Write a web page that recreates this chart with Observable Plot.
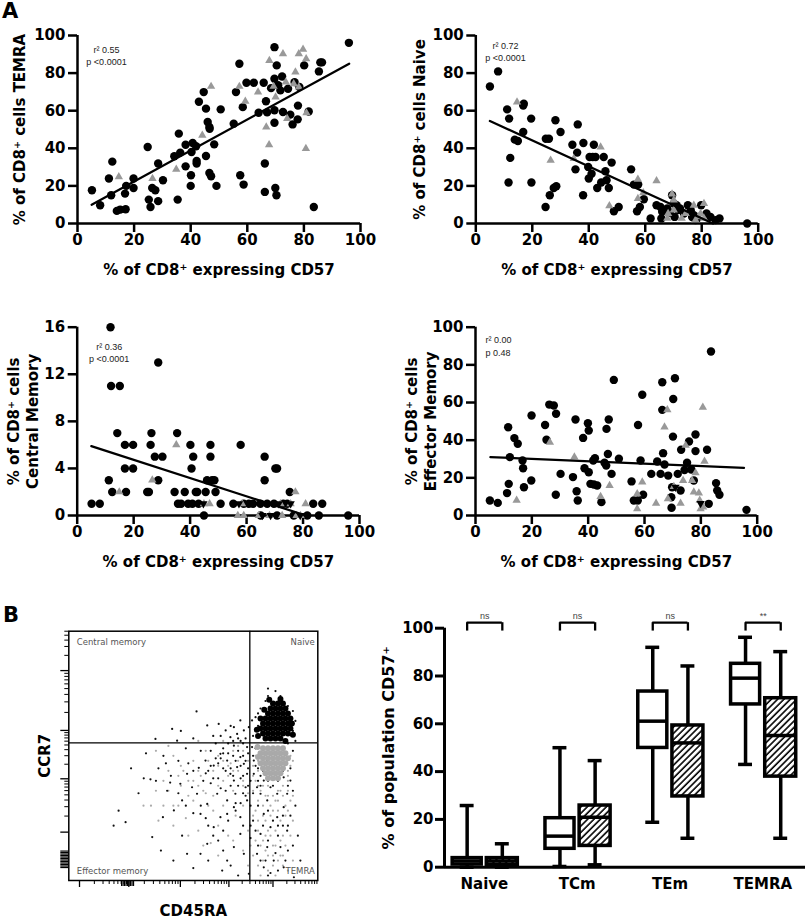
<!DOCTYPE html>
<html><head><meta charset="utf-8">
<script src="https://cdn.jsdelivr.net/npm/d3@7"></script>
<script src="https://cdn.jsdelivr.net/npm/@observablehq/plot@0.6"></script>
<style>
html,body{margin:0;padding:0;background:#fff;}
#fig{position:relative;width:807px;height:919px;overflow:hidden;background:#fff;}
.plabel{position:absolute;font:bold 21px "DejaVu Sans",sans-serif;line-height:1;}
</style></head><body>
<div id="fig"><div class="plabel" style="left:2px;top:1px">A</div><div class="plabel" style="left:3px;top:605px">B</div></div>
<script>
// ---------- Panel A data ----------
const xTicks = [0, 20, 40, 60, 80, 100];
const pctTicks = [0, 20, 40, 60, 80, 100];
const cmTicks = [0, 4, 8, 12, 16];
const xTitle = "% of CD8⁺ expressing CD57";

const temraCircles = [[5.1,17.7],[8,9.7],[11.1,23.9],[12.3,32.9],[11.9,15],[13.9,6.7],[15.1,7.4],[17,7.6],[16.8,15.9],[17.2,20],[19.8,23.9],[19.8,18.9],[24.8,40.7],[25.2,12.7],[25.8,8.8],[26.4,18.9],[27.5,17.7],[28.5,31.9],[28.5,11.9],[30.2,23],[34.2,35.8],[35.4,12.7],[35.8,47.8],[36.3,37.7],[38.2,30.4],[38.2,41.9],[40,20],[40.1,25.7],[40.7,42.8],[40.3,38],[41.9,41.1],[42.1,33.3],[42.1,31.9],[42.9,64.8],[44.6,69.9],[45.4,61.1],[45.4,35.9],[46,54],[46.6,51.3],[46.7,50.4],[46.6,26.9],[47.2,25.1],[48.3,42.1],[49.1,20],[50.6,60.7],[55.2,53.1],[56,69.9],[57.2,85],[57.5,25.7],[58.4,61.9],[58.7,20.7],[59.7,74.9],[62.3,74.9],[64,58.9],[65.8,74.9],[66.6,65],[66.2,31.9],[66.2,16.8],[67,59.1],[68.4,72],[69.6,93.8],[69.6,77],[69.6,60.2],[69.6,53.6],[69.9,18.9],[70.3,15],[70.4,84.1],[70.9,73.5],[71.7,70.8],[72.3,78.2],[72.6,59.3],[74.4,71.7],[75.2,57.9],[76,52.7],[76.7,75.2],[77.8,55.4],[77.9,62.7],[78.4,72.6],[80.1,84.1],[81.7,59.6],[85.3,80.9],[85.8,85.7],[86.4,85.7],[83.5,8.8],[95.9,96.1]];
const temraTriangles = [[14.6,24.8],[26.5,23.9],[34.9,28.8],[44.1,46.9],[47.2,72.9],[57.2,72.9],[59.3,65],[63.8,69.9],[66.7,51.3],[67.7,41.9],[67.8,86.7],[70,67.3],[69.3,72.9],[72.6,90.3],[73.6,75.2],[74.1,55.8],[77,80.5],[78.2,90.3],[79.7,92.6],[80.8,87.6],[80.7,39.8],[80.9,58.8],[78.2,72.6],[76.4,74.3]];
const temraFit = [[5,10],[96,85]];

const naiveCircles = [[5,72.9],[7.9,80.9],[11.1,60.7],[11.8,55.8],[12.2,34.9],[11.6,21.8],[13.8,44.6],[14.9,43.9],[16.8,62.7],[17,63.7],[16.8,48.7],[19.6,55.8],[19.7,21.8],[24.7,8.8],[24.8,45.1],[25.9,45.1],[26.2,15],[27.6,18.9],[28.5,19.8],[28.2,54.9],[30,48.7],[34.2,41.9],[35.3,28.8],[35.9,37.7],[36.1,52.7],[38,15],[38.1,42.8],[39.8,30.1],[40,23.9],[40.3,35.4],[41,26.5],[41.4,35.4],[41.8,41.9],[42.4,35.4],[43,18.9],[44.4,21.8],[45.3,35.4],[45.9,27.8],[46.3,23],[47.1,18.9],[48.1,32.4],[48.9,6.5],[50.6,8.8],[55,28.8],[56,20.7],[57.5,20.7],[57.1,6.5],[58.1,8.8],[59.5,12.9],[61.9,2.7],[64,9.7],[65.4,8.8],[65.7,2.7],[66,6.2],[66.6,7.1],[67.8,8],[68.7,5.8],[69.5,15],[70.1,10.6],[70.4,3.5],[71.1,9.7],[71.7,7.1],[72.3,8],[73.7,5.3],[75.1,9.7],[76.1,7.1],[76.6,3.5],[77.8,1.8],[79.8,9.7],[81.7,5.3],[83.1,3.5],[84.9,1.8],[86.3,2.7],[96.1,0],[77.2,4.4],[78.4,2.7]];
const naiveTriangles = [[14.6,64.6],[26.5,33.6],[34.7,34.5],[44.2,40.7],[47.3,9.4],[57.4,23.5],[57.4,13.3],[59.3,16.3],[64,22.7],[67.8,2.7],[68.1,5.3],[69.5,15.6],[70.1,12.4],[72.9,2.7],[74.3,5.3],[77.2,9.7],[77.8,1.8],[79,3.5],[80.8,10.6],[80.8,2.7],[79.6,5.3],[70.1,7.1]];
const naiveFit = [[5,54.5],[84,0]];

const cmCircles = [[5.1,1],[8,1],[11.8,16],[11.2,3],[12,11],[12.4,2],[15.1,11],[14.2,7],[16.9,6],[16.9,4],[17.3,2],[19.8,6],[19.8,4],[24.8,2],[25.4,2],[26,6],[26.3,7],[27.5,5],[28.7,3],[28.7,13],[30.2,5],[34.5,2],[35.4,7],[35.7,1],[36.8,1],[38.1,2],[39.3,1],[40.1,6],[40.5,4],[40.8,1],[41.1,5],[42,2],[42.5,2],[43,1],[44.9,0],[45.5,2],[46,3],[47.2,6],[47.2,5],[47.8,3],[48.6,3],[49,2],[50.8,1],[55.3,1],[57.9,6],[59,1],[60.8,1],[62.3,1],[64.9,1],[66.4,5],[66.4,3],[67.3,1],[69.7,1],[70.2,4],[70.8,4],[73,1],[74.4,1],[75.3,2],[81.5,0],[83.6,1],[86.8,1],[85.6,0],[96,0],[65,0],[70.8,0],[76.7,0]];
const cmTriangles = [[14.9,2],[26.6,3],[35.1,6],[44.9,1],[46.9,1],[56.9,0],[58.4,1],[59,0],[64.3,0],[68.1,0],[72,1],[72.6,0],[75.6,1],[77.3,2],[77.7,0],[80.9,1],[79.1,0]];
const cmDown = [[44.7,1],[57.3,1],[65.6,0],[68.5,0],[71.4,1],[75.6,1],[79,0]];
const cmFit = [[5,5.9],[81,0]];

const emCircles = [[5.1,8],[7.9,6.7],[11.6,46.9],[12.2,31],[11.8,16.8],[11.2,11.9],[13.8,41.1],[15,38.1],[16.7,29.2],[16.9,25.1],[17.2,15],[19.8,18.6],[19.9,53.1],[24.7,48.1],[25.2,40.2],[26.2,58.9],[27.8,58.4],[28.6,54],[28.5,11],[30.2,22.1],[34.6,20.4],[35.5,51],[35.9,12.9],[36.3,8],[38.2,41.2],[39.9,49],[40.2,45.1],[38.7,25.1],[40.2,23],[40.8,16.8],[41.8,29.2],[42.4,30.4],[42,16.5],[43.2,15.9],[44.7,7.1],[45.8,28],[46.4,26.5],[46.5,46],[47.3,51],[47,32.7],[48.3,22.1],[49.1,72],[50.9,30.1],[55.4,18.1],[56.2,8],[57.6,8],[57.7,48.1],[58.6,29.2],[59.2,64.1],[59.5,11],[62.4,22.1],[64.5,28.7],[65.7,22.1],[66.3,70.8],[66.3,56.1],[66.6,33.1],[67.1,27.1],[68.4,21.2],[69.5,9.7],[69.6,4.1],[69.8,15],[70.1,41.9],[70.2,61.9],[70.8,72.9],[71.8,22.1],[72.8,13.3],[73,34.9],[74.2,24.2],[75.1,28],[75.8,39.3],[76.6,24.4],[78.1,43],[78.1,34.2],[77.5,18.6],[82.2,34.9],[83.6,87.1],[85.4,17.2],[85.8,13.3],[86.6,11],[96.2,3],[82.8,6.2]];
const emTriangles = [[14.6,8],[26.4,38.9],[35.1,31],[44.4,10.1],[47.6,15.9],[57.4,11.5],[57.4,3.5],[59.2,17.7],[64.1,6.5],[68.1,56.1],[67.1,46.9],[68.3,8.8],[70.4,15.4],[72.8,6.5],[73.7,18.6],[74.6,37.2],[77.5,12.4],[78.1,22.7],[79.3,11.9],[79.6,8],[79.9,3.5],[80.8,4.4],[80.7,57.5],[81.3,28.8],[76.9,18.6]];
const emDown = [[79.9,6.4],[71,15]];
const emFit = [[5.3,31],[95.3,25.3]];

// ---------- Panel B data ----------
const gateX = 72.7, gateY = 55.2;
const flowBlackCore = [[79,57],[81,57],[83,57],[85,57],[87,56],[78,59],[80,59],[82,59],[84,59],[86,59],[88,59],[79,61],[81,61],[83,61],[85,61],[87,61],[89,61],[78,63],[80,63],[82,63],[84,63],[86,63],[88,63],[79,65],[81,65],[83,65],[85,65],[87,65],[89,65],[80,67],[82,67],[84,67],[86,67],[88,67],[81,69],[83,69],[85,69],[87,69],[82,71],[84,71],[86,71],[77,61],[76,58],[77,65],[80.5,72.5],[85,72.8],[89.6,63],[90,58.5],[75.5,60.5],[78.5,68.5]];
const flowGrayCore = [[78,53],[80,53],[82,53],[84,53],[86,53],[77,51],[79,51],[81,51],[83,51],[85,51],[87,51],[78,49],[80,49],[82,49],[84,49],[86,49],[77,47],[79,47],[81,47],[83,47],[85,47],[87,47],[78,45],[80,45],[82,45],[84,45],[86,45],[79,43],[81,43],[83,43],[85,43],[80,41],[82,41],[84,41],[76,49.5],[88,49],[75.8,53.5]];
const flowBlack = [[51.3,67.8],[60.2,62.8],[55.6,62.2],[34.8,56.8],[43.5,56.1],[41.5,60.8],[31,51],[30.1,41],[32.8,40.6],[40.7,39.3],[39.5,36],[44.8,38.8],[47.5,42.8],[52.2,45.2],[54.9,48.1],[58.2,46.1],[60.9,50.8],[63.6,48.1],[64.9,42.8],[66.3,40.1],[67.6,45.5],[68.9,49.5],[70.3,46.8],[71.6,42.8],[71,37.4],[66.9,34.8],[63.6,32.1],[59.6,34.8],[55.6,30.7],[52.9,26.7],[51.5,34.8],[49.5,37.4],[45.5,32.1],[42.2,28.1],[37.8,25.4],[33.5,17.4],[22.8,23.4],[45.5,18],[47.5,10.7],[52.9,10.7],[55.6,14.7],[58.2,21.4],[60.9,25.4],[63.6,26.7],[66.3,29.4],[68.9,25.4],[71.6,32.1],[61.6,4],[63.6,8],[66.3,13.4],[68.9,18.7],[70.3,10.7],[72.3,2.7],[74.3,42.8],[75.6,37.4],[77,34.8],[78.3,40.1],[79.7,32.1],[81,37.4],[83.7,34.8],[86.3,41.4],[87.7,34.8],[89,40.1],[78.3,26.7],[81,21.4],[83.7,25.4],[86.3,29.4],[77,18.7],[79.7,13.4],[82.3,8],[85,13.4],[87.7,20],[78.3,5.3],[75.6,10.7],[90.4,1.3],[93,8],[86.3,5.3],[74.3,48.1],[79.7,48.1],[85.7,46.8],[88.4,49.5],[73.6,53.5],[71.6,53.5],[66.3,54.1],[64.9,57.5],[67.6,58.8],[70.3,60.2],[72.3,61.5],[73.6,64.2],[75,65.5],[66.3,61.5],[63,60.2],[68.9,64.2],[57,52],[59,55],[62,53],[64,51],[66,50],[68,52],[70,50],[69,56],[71,57],[62,45],[60,41],[57,39],[54,40],[50,44],[48,47],[56,44],[65,38],[69,41],[72,45],[70,35],[67,31],[73,40],[73,30],[74,35],[76,45],[77,42],[89,45],[90,52],[91,56],[88,55],[76,50],[75,53],[53,52],[47,53],[38,50],[36,45],[44,48],[61,58],[58,58],[45,60],[50,57],[65,62],[74,58],[76,62],[90,60],[91,64],[88,70],[85,74],[83,76],[80,74],[79,72],[77,69],[76,67],[90,68],[80,77],[55,25],[58,18],[62,12],[65,6],[68,2],[70,22],[73,22],[73,17],[76,30],[80,28],[84,18],[86,22],[88,12],[84,4],[80,2],[77,8],[91,30],[89,26],[92,18],[60,47],[61,49],[63,44],[65,45],[67,48],[69,46],[71,48],[72,51],[70,55],[68,57],[66,56],[64,55],[62,51],[59,49],[57,46],[55,43],[58,41],[61,37],[63,36],[66,42],[68,38],[70,42],[72,38],[71,34],[69,31],[67,28],[64,24],[62,20],[60,16],[56,22],[53,30],[50,27],[47,30],[44,35],[41,42],[39,47],[35,40],[28,35],[25,45],[20,28],[18,22],[37,12],[42,8],[50,5],[56,8],[74,50],[75,46],[76,40],[77,38],[78,44],[80,40],[82,38],[84,40],[86,44],[88,38],[90,36],[78,22],[80,16],[82,24],[84,22],[86,26],[88,22],[90,14],[79,8],[83,11],[87,8],[81,3],[76,14],[75,20],[74,24]];
const flowGray = [[60,50],[55,52],[50,48],[45,46],[40,44],[48,40],[53,42],[58,44],[62,40],[65,47],[68,44],[70,38],[66,36],[62,30],[58,28],[55,35],[50,32],[45,38],[38,40],[35,36],[33,30],[42,30],[47,25],[52,20],[57,15],[60,22],[64,18],[67,26],[70,30],[72,20],[74,10],[76,24],[78,30],[80,20],[82,14],[84,28],[86,18],[88,36],[90,24],[76,6],[80,4],[84,8],[88,4],[78,38],[82,34],[86,38],[74,42],[72,48],[70,52],[68,54],[88,44],[90,48],[30,30],[40,54],[35,52],[52,56],[62,56],[73,14],[75,16],[79,12],[83,2],[77,2],[85,24],[75,40],[77,36],[79,34],[81,30],[83,32],[85,36],[87,30],[75,28],[79,24],[81,26],[83,20],[85,16],[87,26],[89,32],[76,20],[78,16],[80,10],[82,6],[86,10],[74,26],[74,46],[76,48],[88,40],[89,50],[66,44],[64,42],[60,46],[56,48],[52,38],[48,34],[44,42],[42,50],[76,32],[78,26],[80,34],[82,28],[84,32],[86,34],[88,28],[90,34],[77,14],[79,18],[81,18],[83,14],[85,10],[87,14],[89,18],[78,8],[82,10],[86,6],[90,8],[74,36],[76,38],[80,38],[84,36],[88,42],[89,46],[75,50],[76,44],[72,35],[70,40],[68,48],[66,52],[64,46],[62,48],[60,38],[58,34],[56,30],[54,36],[52,44],[50,40],[46,44],[44,30],[40,36],[38,30],[36,24],[42,22],[48,18],[54,14],[60,10],[66,16],[70,12],[72,6]];
const flowYMajor = [19.4, 40.8, 60.2, 84.2];
const flowXMajor = [4.3, 24.1, 44.8, 64.3, 82];
const flowYDense = [5.2, 5.8, 6.4, 7, 7.6, 8.2, 8.8, 9.4, 10, 10.6, 11.2, 11.8];
const flowXDense = [21.2, 21.8, 22.4, 23, 23.6, 24.2, 24.8, 25.4, 26];

const boxGroups = ["Naive", "TCm", "TEm", "TEMRA"];
const openMin = [0, 0.3, 18.8, 43];
const openQ1 = [1.1, 7.7, 49.9, 68.1];
const openMed = [2.6, 13, 61.1, 79.1];
const openQ3 = [3.8, 20.5, 73.5, 85.1];
const openMax = [25.8, 50, 92, 96.2];
const hatchMin = [0, 1, 12.1, 12.1];
const hatchQ1 = [1, 8.9, 29.6, 37.9];
const hatchMed = [2.6, 20.9, 52, 55.1];
const hatchQ3 = [3.8, 25.8, 59.3, 70.7];
const hatchMax = [9.8, 44.6, 84.2, 90.2];
const sigLabels = ["ns", "ns", "ns", "**"];

// ---------- helpers ----------
const FONT = '"DejaVu Sans", sans-serif';
const fig = document.getElementById("fig");
const baseStyle = {fontFamily: FONT, fontSize: "15px", fontWeight: "bold", background: "transparent", color: "black", overflow: "visible"};
function place(svg, left, top) {
  svg.style.position = "absolute";
  svg.style.left = left + "px";
  svg.style.top = top + "px";
  svg.style.maxWidth = "none";
  fig.appendChild(svg);
}
const px = d => d[0], py = d => d[1];

function scatter(c) {
  return Plot.plot({
    width: c.w, height: 290,
    marginLeft: c.mL, marginRight: c.mR, marginTop: c.mT, marginBottom: c.mB,
    x: {domain: [0, 100]}, y: {domain: c.yDomain},
    style: baseStyle,
    marks: [
      Plot.axisX({ticks: xTicks, tickSize: 9, tickPadding: 2, strokeWidth: 2.5, label: null}),
      Plot.axisY({ticks: c.yTicks, tickSize: 9, tickPadding: 3, strokeWidth: 2.5, label: null}),
      Plot.ruleX([0], {strokeWidth: 2.5}),
      Plot.ruleY([0], {strokeWidth: 2.5}),
      Plot.dot(c.circles, {x: px, y: py, r: 4.2, fill: "black"}),
      Plot.dot(c.tris, {x: px, y: py, r: 3.1, symbol: "triangle", fill: "#999"}),
      c.down ? Plot.dot(c.down, {x: px, y: py, r: 3.1, symbol: "triangle", rotate: 180, fill: "black"}) : null,
      Plot.line(c.fit, {x: px, y: py, strokeWidth: 2.3}),
      Plot.text([c.ann], {frameAnchor: "top-left", dx: c.annDx, dy: c.annDy, textAnchor: c.annAnchor, lineAnchor: "middle", lineHeight: 1.4, fontSize: 9, fontWeight: "normal", fontFamily: '"Liberation Sans", Arial, sans-serif', fill: "#222"}),
      Plot.text([xTitle], {frameAnchor: "bottom", dy: 47, textAnchor: "middle", lineAnchor: "middle"}),
      Plot.text([c.yTitle], {frameAnchor: "left", dx: -c.yTitleDx, rotate: -90, textAnchor: "middle", lineAnchor: "middle", lineHeight: 1.3})
    ]
  });
}

place(scatter({w: 400, mL: 77, mR: 40, mT: 35, mB: 67, yDomain: [0, 100], yTicks: pctTicks,
  circles: temraCircles, tris: temraTriangles, fit: temraFit,
  ann: "r² 0.55\np <0.0001", annDx: 29, annDy: 19.5, annAnchor: "middle",
  yTitle: "% of CD8⁺ cells TEMRA", yTitleDx: 59}), 0, 0);

place(scatter({w: 407, mL: 75.3, mR: 49.3, mT: 35, mB: 67, yDomain: [0, 100], yTicks: pctTicks,
  circles: naiveCircles, tris: naiveTriangles, fit: naiveFit,
  ann: "r² 0.72\np <0.0001", annDx: 29.7, annDy: 15.5, annAnchor: "middle",
  yTitle: "% of CD8⁺ cells Naive", yTitleDx: 57}), 400, 0);

place(scatter({w: 400, mL: 76.7, mR: 41, mT: 36.7, mB: 65, yDomain: [0, 16], yTicks: cmTicks,
  circles: cmCircles, tris: cmTriangles, down: cmDown, fit: cmFit,
  ann: "r² 0.36\np <0.0001", annDx: 32, annDy: 24.8, annAnchor: "middle",
  yTitle: "% of CD8⁺ cells\nCentral Memory", yTitleDx: 55}), 0, 290);

place(scatter({w: 407, mL: 75, mR: 50.3, mT: 36.7, mB: 65, yDomain: [0, 100], yTicks: pctTicks,
  circles: emCircles, tris: emTriangles, down: emDown, fit: emFit,
  ann: "r² 0.00\np 0.48", annDx: 10, annDy: 18.1, annAnchor: "start",
  yTitle: "% of CD8⁺ cells\nEffector Memory", yTitleDx: 55}), 400, 290);

// ---------- flow plot ----------
function minorTicks(majors, last) {
  const out = [];
  const bounds = [...majors, last];
  for (let j = 0; j < majors.length; j++) {
    const a = bounds[j], b = bounds[j + 1];
    for (let k = 2; k <= 9; k++) {
      const v = a + (b - a) * Math.log10(k);
      if (v < 100) out.push(v);
    }
  }
  return out;
}
const flowYMinor = minorTicks(flowYMajor, 104.5);
const flowXMinor = minorTicks(flowXMajor, 100.5);
const blank = () => "";
const qStyle = {lineAnchor: "middle", fontSize: 8.5, fontWeight: "normal", fill: "#555"};
const flowSvg = Plot.plot({
  width: 380, height: 339, marginLeft: 68.3, marginRight: 62.7, marginTop: 50.7, marginBottom: 39,
  x: {domain: [0, 100]}, y: {domain: [0, 100]},
  style: baseStyle,
  marks: [
    Plot.dot(flowGray, {x: px, y: py, r: 1.1, fill: "#aaa"}),
    Plot.dot(flowBlack, {x: px, y: py, r: 1.1, fill: "#111"}),
    Plot.dot(flowGrayCore, {x: px, y: py, r: 3, fill: "#a9a9a9"}),
    Plot.dot(flowBlackCore, {x: px, y: py, r: 3, fill: "black"}),
    Plot.ruleX([gateX], {strokeWidth: 1.3}),
    Plot.ruleY([gateY], {strokeWidth: 1.3}),
    Plot.frame({strokeWidth: 1.5}),
    Plot.axisY({ticks: flowYMajor, tickSize: 8, tickFormat: blank, strokeWidth: 1.3, label: null}),
    Plot.axisY({ticks: flowYMinor, tickSize: 4, tickFormat: blank, strokeWidth: 1, label: null}),
    Plot.axisY({ticks: flowYDense, tickSize: 8, tickFormat: blank, strokeWidth: 1.2, label: null}),
    Plot.axisX({ticks: flowXMajor, tickSize: 7, tickFormat: blank, strokeWidth: 1.3, label: null}),
    Plot.axisX({ticks: flowXMinor, tickSize: 4, tickFormat: blank, strokeWidth: 1, label: null}),
    Plot.axisX({ticks: flowXDense, tickSize: 6, tickFormat: blank, strokeWidth: 1.2, label: null}),
    Plot.text(["Central memory"], {frameAnchor: "top-left", dx: 8, dy: 11, textAnchor: "start", ...qStyle}),
    Plot.text(["Naive"], {frameAnchor: "top-right", dx: -3, dy: 11, textAnchor: "end", ...qStyle}),
    Plot.text(["Effector memory"], {frameAnchor: "bottom-left", dx: 8, dy: -9, textAnchor: "start", ...qStyle}),
    Plot.text(["TEMRA"], {frameAnchor: "bottom-right", dx: -3, dy: -9, textAnchor: "end", ...qStyle}),
    Plot.text(["CCR7"], {frameAnchor: "left", dx: -24, rotate: -90, textAnchor: "middle", lineAnchor: "middle", fontSize: 15}),
    Plot.text(["CD45RA"], {frameAnchor: "bottom", dy: 31, textAnchor: "middle", lineAnchor: "middle", fontSize: 15})
  ]
});
place(flowSvg, 0, 580);

// ---------- box plot ----------
const xMin = -0.43, xMax = 3.46;
const boxes = boxGroups.flatMap((g, i) => [
  {i, kind: "open", cx: i - 0.186, x1: i - 0.342, x2: i - 0.029, lo: openMin[i], q1: openQ1[i], med: openMed[i], q3: openQ3[i], hi: openMax[i]},
  {i, kind: "hatch", cx: i + 0.193, x1: i + 0.026, x2: i + 0.36, lo: hatchMin[i], q1: hatchQ1[i], med: hatchMed[i], q3: hatchQ3[i], hi: hatchMax[i]}
]);
const brackets = boxGroups.map((g, i) => ({i, a: i - 0.186, b: i + 0.193, label: sigLabels[i]}));
const capHalf = 0.075;
const boxSvg = Plot.plot({
  width: 427, height: 339, marginLeft: 64, marginRight: 2, marginTop: 47.7, marginBottom: 52.3,
  x: {domain: [xMin, xMax]}, y: {domain: [0, 100]},
  style: baseStyle,
  marks: [
    Plot.axisY({ticks: pctTicks, tickSize: 9, tickPadding: 2, strokeWidth: 3, label: null}),
    Plot.axisX({ticks: [0, 1, 2, 3], tickFormat: i => boxGroups[i], tickSize: 0, tickPadding: 11, label: null}),
    Plot.ruleX([xMin], {y1: 0, y2: 100, strokeWidth: 3}),
    Plot.ruleY([0], {strokeWidth: 3}),
    Plot.ruleX(boxes, {x: "cx", y1: "lo", y2: "hi", strokeWidth: 3.5}),
    Plot.ruleY(boxes, {x1: d => d.cx - capHalf, x2: d => d.cx + capHalf, y: "hi", strokeWidth: 3.5}),
    Plot.ruleY(boxes, {x1: d => d.cx - capHalf, x2: d => d.cx + capHalf, y: "lo", strokeWidth: 3.5}),
    Plot.rect(boxes.filter(d => d.kind === "open"), {x1: "x1", x2: "x2", y1: "q1", y2: "q3", fill: "white", stroke: "black", strokeWidth: 3.5}),
    Plot.rect(boxes.filter(d => d.kind === "hatch"), {x1: "x1", x2: "x2", y1: "q1", y2: "q3", fill: "url(#hatch)", stroke: "black", strokeWidth: 3.5}),
    Plot.ruleY(boxes, {x1: "x1", x2: "x2", y: "med", strokeWidth: 3.5}),
    Plot.ruleY(brackets, {x1: "a", x2: "b", y: 102.3, strokeWidth: 2.3}),
    Plot.ruleX(brackets, {x: "a", y1: 98.8, y2: 102.3, strokeWidth: 2.3}),
    Plot.ruleX(brackets, {x: "b", y1: 98.8, y2: 102.3, strokeWidth: 2.3}),
    Plot.text(brackets, {x: d => (d.a + d.b) / 2, y: 105, text: "label", fontSize: 9, fontWeight: "normal", fontFamily: '"Liberation Sans", Arial, sans-serif', fill: "#444"}),
    Plot.text(["% of population CD57⁺"], {frameAnchor: "left", dx: -56, rotate: -90, textAnchor: "middle", lineAnchor: "middle", fontSize: 16})
  ]
});
boxSvg.insertAdjacentHTML("afterbegin",
  '<defs><pattern id="hatch" patternUnits="userSpaceOnUse" width="4.5" height="4.5" patternTransform="rotate(45)">' +
  '<rect width="4.5" height="4.5" fill="white"/><line x1="1" y1="0" x2="1" y2="4.5" stroke="black" stroke-width="1.6"/></pattern></defs>');
place(boxSvg, 380, 580);
</script>
</body></html>
